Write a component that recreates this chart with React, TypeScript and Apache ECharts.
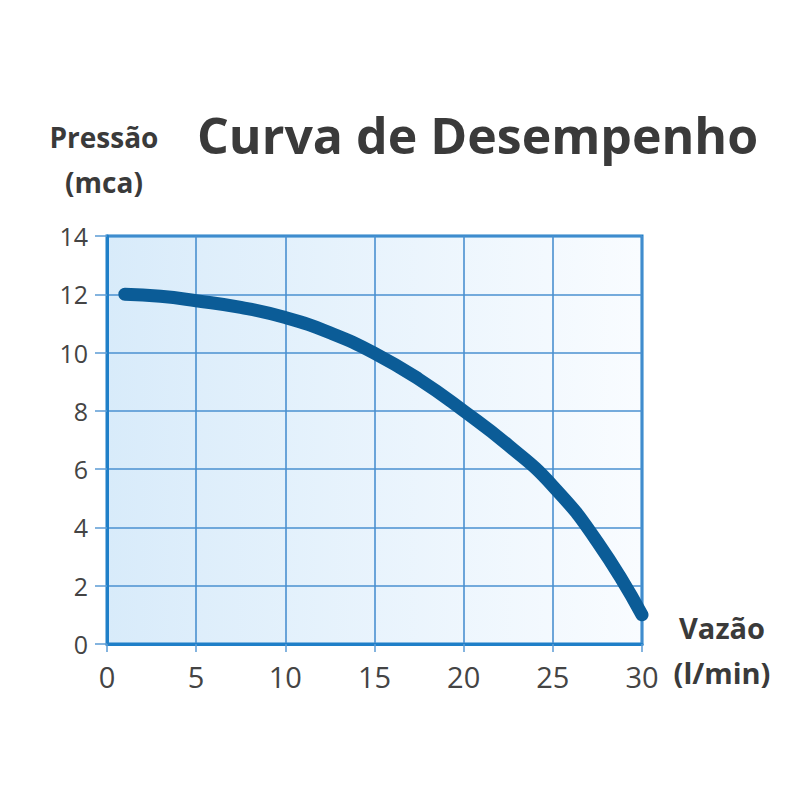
import React, { useEffect, useRef } from "react";
import * as echarts from "echarts";

const flowValues = [1, 3, 5, 7.5, 10, 12.5, 15, 17.5, 20, 22.5, 25, 27.5, 30];
const pressureValues = [12, 11.93, 11.78, 11.55, 11.2, 10.68, 9.98, 9.08, 8.0, 6.82, 5.42, 3.5, 1.0];
const xTicks = [0, 5, 10, 15, 20, 25, 30];
const yTicks = [0, 2, 4, 6, 8, 10, 12, 14];
const titleText = "Curva de Desempenho";
const yNameLines = ["Pressão", "(mca)"];
const xNameLines = ["Vazão", "(l/min)"];

export default function App() {
  const ref = useRef<HTMLDivElement>(null);
  useEffect(() => {
    if (!ref.current) return;
    const chart = echarts.init(ref.current, null, { renderer: "svg" });
    const font = "'Open Sans', 'Noto Sans', sans-serif";
    const textColor = "#3a3a3a";
    chart.setOption({
      animation: false,
      backgroundColor: "#ffffff",
      grid: {
        left: 107,
        right: 158,
        top: 236,
        bottom: 156,
        show: true,
        borderColor: "#1f7fc8",
        borderWidth: 3,
        backgroundColor: new echarts.graphic.LinearGradient(0, 0, 1, 0, [
          { offset: 0, color: "#d8ebfa" },
          { offset: 1, color: "#f9fcff" },
        ]),
      },
      xAxis: {
        type: "value",
        min: xTicks[0],
        max: xTicks[xTicks.length - 1],
        interval: 5,
        axisLine: { show: true, lineStyle: { color: "#1f7fc8", width: 3 } },
        axisTick: { show: true, length: 8, lineStyle: { color: "#5b9bd5", width: 1.5 } },
        splitLine: { show: true, lineStyle: { color: "#4a90d0", width: 1.6 } },
        axisLabel: {
          color: "#444",
          fontSize: 29,
          fontFamily: font,
          margin: 18,
        },
      },
      yAxis: {
        type: "value",
        min: yTicks[0],
        max: yTicks[yTicks.length - 1],
        interval: 2,
        axisLine: { show: true, lineStyle: { color: "#1f7fc8", width: 3 } },
        axisTick: { show: true, length: 12, lineStyle: { color: "#5b9bd5", width: 1.5 } },
        splitLine: { show: true, lineStyle: { color: "#4a90d0", width: 1.6 } },
        axisLabel: {
          color: "#444",
          fontSize: 25,
          fontFamily: font,
          margin: 19,
        },
      },
      series: [
        {
          type: "line",
          data: flowValues.map((x, i) => [x, pressureValues[i]]),
          smooth: 0.5,
          showSymbol: false,
          lineStyle: { color: "#0b5c97", width: 13, cap: "round", join: "round" },
          z: 5,
        },
      ],
      graphic: [
        {
          type: "text",
          left: 197,
          top: 110,
          style: {
            text: titleText,
            font: `bold 50px ${font}`,
            fill: textColor,
          },
        },
        {
          type: "text",
          x: 104,
          y: 137,
          style: {
            text: yNameLines[0],
            font: `bold 28px ${font}`,
            fill: textColor,
            align: "center",
            verticalAlign: "middle",
          },
        },
        {
          type: "text",
          x: 104,
          y: 182,
          style: {
            text: yNameLines[1],
            font: `bold 28px ${font}`,
            fill: textColor,
            align: "center",
            verticalAlign: "middle",
          },
        },
        {
          type: "text",
          x: 722,
          y: 627,
          style: {
            text: xNameLines[0],
            font: `bold 29px ${font}`,
            fill: textColor,
            align: "center",
            verticalAlign: "middle",
          },
        },
        {
          type: "text",
          x: 722,
          y: 672,
          style: {
            text: xNameLines[1],
            font: `bold 29px ${font}`,
            fill: textColor,
            align: "center",
            verticalAlign: "middle",
          },
        },
      ],
    });
    return () => chart.dispose();
  }, []);
  return <div ref={ref} style={{ width: 800, height: 800, position: "absolute", left: 0, top: 0 }} />;
}
